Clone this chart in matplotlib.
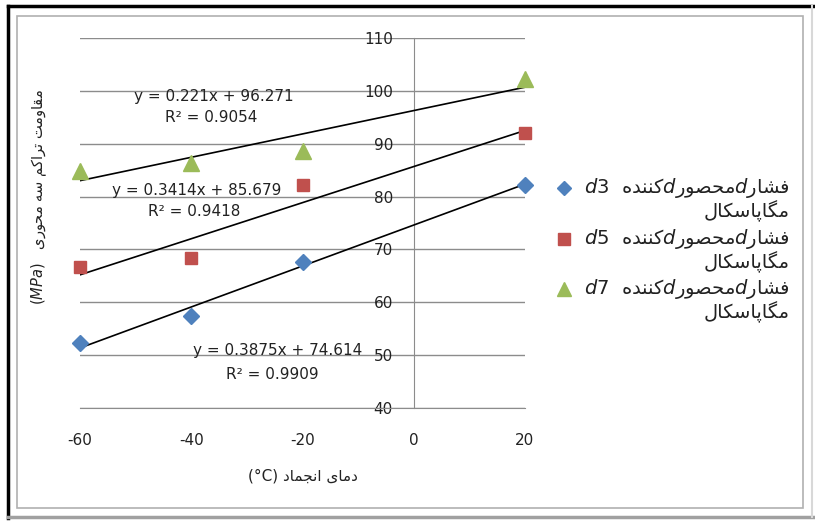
import numpy as np
import matplotlib.pyplot as plt
from matplotlib.lines import Line2D
from matplotlib.patches import Rectangle

plt.rcParams['axes.unicode_minus'] = False

# freezing temperature (C) and triaxial strength (MPa)
temps = [-60, -40, -20, 20]
d3_vals = [52.3, 57.4, 67.7, 82.2]
d5_vals = [66.6, 68.4, 82.2, 92.0]
d7_vals = [84.9, 86.4, 88.7, 102.3]

# excel linear trendlines shown on the chart
slopes = [0.3875, 0.3414, 0.221]
intercepts = [74.614, 85.679, 96.271]
r2_vals = [0.9909, 0.9418, 0.9054]

y_ticks = [40, 50, 60, 70, 80, 90, 100, 110]
x_ticks = [-60, -40, -20, 0, 20]
pressures = [3, 5, 7]

# contextual forms: isolated, final, initial, medial
FORMS = {
    'ا': ('\uFE8D', '\uFE8E', None, None),
    'د': ('\uFEA9', '\uFEAA', None, None),
    'ر': ('\uFEAD', '\uFEAE', None, None),
    'و': ('\uFEED', '\uFEEE', None, None),
    'پ': ('\uFB56', '\uFB57', '\uFB58', '\uFB59'),
    'ت': ('\uFE95', '\uFE96', '\uFE97', '\uFE98'),
    'ج': ('\uFE9D', '\uFE9E', '\uFE9F', '\uFEA0'),
    'ح': ('\uFEA1', '\uFEA2', '\uFEA3', '\uFEA4'),
    'س': ('\uFEB1', '\uFEB2', '\uFEB3', '\uFEB4'),
    'ش': ('\uFEB5', '\uFEB6', '\uFEB7', '\uFEB8'),
    'ص': ('\uFEB9', '\uFEBA', '\uFEBB', '\uFEBC'),
    'ف': ('\uFED1', '\uFED2', '\uFED3', '\uFED4'),
    'ق': ('\uFED5', '\uFED6', '\uFED7', '\uFED8'),
    'ک': ('\uFB8E', '\uFB8F', '\uFB90', '\uFB91'),
    'گ': ('\uFB92', '\uFB93', '\uFB94', '\uFB95'),
    'ل': ('\uFEDD', '\uFEDE', '\uFEDF', '\uFEE0'),
    'م': ('\uFEE1', '\uFEE2', '\uFEE3', '\uFEE4'),
    'ن': ('\uFEE5', '\uFEE6', '\uFEE7', '\uFEE8'),
    'ه': ('\uFEE9', '\uFEEA', '\uFEEB', '\uFEEC'),
    'ی': ('\uFBFC', '\uFBFD', '\uFBFE', '\uFBFF'),
}


def rtl(s):
    # shape persian letters and return them in visual order
    out = []
    for i, ch in enumerate(s):
        if ch not in FORMS:
            out.append(ch)
            continue
        prev = s[i - 1] if i > 0 else ''
        nxt = s[i + 1] if i + 1 < len(s) else ''
        join_prev = prev in FORMS and FORMS[prev][2] is not None
        join_next = FORMS[ch][2] is not None and nxt in FORMS
        iso, fin, ini, med = FORMS[ch]
        if join_prev and join_next:
            out.append(med)
        elif join_prev:
            out.append(fin)
        elif join_next:
            out.append(ini)
        else:
            out.append(iso)
    return ''.join(reversed(out))


def legend_label(n):
    first = (f'$d{n}$  ' + rtl('کننده') + '$d$' + rtl('محصور') + '$d$' + rtl('فشار'))
    return first + '\n' + rtl('مگاپاسکال')


fig = plt.figure(figsize=(8.15, 5.23), dpi=100)
ax = fig.add_axes([80 / 815, 1 - 408 / 523, 445 / 815, 370 / 523])

grid_c = '#8c8c8c'
txt_c = '#222222'
ax.set_xlim(-60, 20)
ax.set_ylim(40, 110)
ax.set_yticks(y_ticks)
ax.set_xticks(x_ticks)
ax.yaxis.grid(True, color=grid_c, lw=1.0)
ax.set_axisbelow(True)
for side in ['top', 'right']:
    ax.spines[side].set_visible(False)
ax.spines['left'].set_position(('data', 0))
ax.spines['left'].set_color(grid_c)
ax.spines['bottom'].set_color(grid_c)
ax.tick_params(axis='y', length=0, pad=15, labelsize=11, labelcolor=txt_c)
ax.tick_params(axis='x', length=0, pad=18, labelsize=11, labelcolor=txt_c)

xs = np.array([-60, 20])
for m, b in zip(slopes, intercepts):
    ax.plot(xs, m * xs + b, color='black', lw=1.2, zorder=3)

colors = ['#4f81bd', '#c0504d', '#9bbb59']
markers = ['D', 's', '^']
sizes = [8, 9, 11]
for vals, c, mk, ms in zip([d3_vals, d5_vals, d7_vals], colors, markers, sizes):
    ax.plot(temps, vals, mk, color=c, ms=ms, clip_on=False, zorder=4)

# trendline equations
eq_pos = [(-24.5, 50.8), (-39.0, 81.2), (-36.0, 98.9)]
r2_pos = [(-25.5, 46.4), (-39.5, 77.1), (-36.5, 94.9)]
for m, b, r2, p, q in zip(slopes, intercepts, r2_vals, eq_pos, r2_pos):
    ax.text(p[0], p[1], f'y = {m}x + {b}', ha='center', va='center', fontsize=11, color=txt_c, zorder=5)
    ax.text(q[0], q[1], f'R² = {r2}', ha='center', va='center', fontsize=11, color=txt_c, zorder=5)

ax.set_xlabel('(°C) ' + rtl('دمای انجماد'), fontsize=11, labelpad=15, color=txt_c)
ax.set_ylabel('$(MPa)$   ' + rtl('مقاومت تراکم سه محوری'), fontsize=10.5, color=txt_c)
ax.yaxis.set_label_coords(-0.07, 0.57)

# legend drawn by hand so markers sit on the first line
line_y = [188, 239, 289]
for n, c, mk, ms, yp in zip(pressures, colors, markers, sizes, line_y):
    fy = 1 - yp / 523
    fig.add_artist(Line2D([564 / 815], [fy], transform=fig.transFigure, ls='none',
                          marker=mk, color=c, ms=ms - 1))
    fig.text(790 / 815, 1 - (yp - 12) / 523, legend_label(n), ha='right', va='top',
             ma='right', fontsize=14, color=txt_c, linespacing=1.05)

# picture frame and chart area border
fig.patches.append(Rectangle((17 / 815, 1 - 508 / 523), 786 / 815, 492 / 523,
                             transform=fig.transFigure, fill=False, ec='#b0b0b0', lw=1.2))
fig.add_artist(Line2D([8 / 815, 8 / 815], [0.01, 1 - 6 / 523], transform=fig.transFigure, color='black', lw=2.5))
fig.add_artist(Line2D([8 / 815, 0.998], [1 - 6 / 523, 1 - 6 / 523], transform=fig.transFigure, color='black', lw=2.5))
fig.add_artist(Line2D([8 / 815, 1], [1 - 517 / 523, 1 - 517 / 523], transform=fig.transFigure, color='#a0a0a0', lw=2.5))
fig.add_artist(Line2D([812 / 815, 812 / 815], [1 - 517 / 523, 1 - 6 / 523], transform=fig.transFigure, color='#d8d8d8', lw=1.5))

fig.savefig('out.png', dpi=100)
